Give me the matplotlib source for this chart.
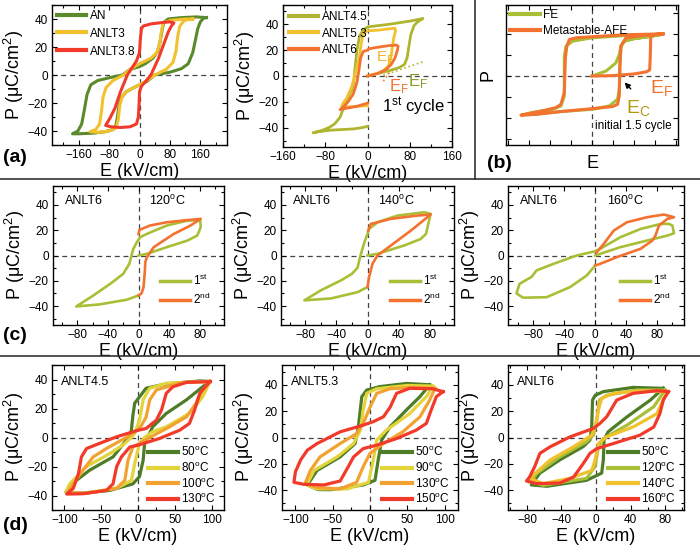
import matplotlib
matplotlib.use('Agg')
import matplotlib.pyplot as plt
from matplotlib.ticker import AutoMinorLocator, NullLocator
from matplotlib.lines import Line2D

plt.rcParams['font.family'] = ['Liberation Sans', 'DejaVu Sans']
plt.rcParams['mathtext.fontset'] = 'custom'
plt.rcParams['mathtext.rm'] = 'Liberation Sans'
plt.rcParams['mathtext.it'] = 'Liberation Sans:italic'
plt.rcParams['mathtext.bf'] = 'Liberation Sans:bold'

# ---------------- data (E in kV/cm, P in uC/cm2) ----------------
# (a) left: composition series
an_E = [176, 150, 110, 75, 64, 60, 55, 48, 35, 15, 0, -25, -45, -80, -110, -128, -138, -145, -152, -162, -176,
        -160, -120, -90, -70, -62, -58, -54, -47, -35, -15, 0, 20, 40, 80, 110, 128, 140, 147, 153, 160, 168, 176]
an_P = [41, 41.5, 41, 40, 37.5, 33, 25, 17, 12, 8, 6, 4, 0, -2, -4, -7, -14, -25, -35, -40, -42,
        -42, -41.5, -40.5, -39, -36, -30, -22, -16, -12, -9, -7, -4.5, 0, 2, 4.5, 8, 16, 25, 33, 38, 40.5, 41]
lt3_E = [140, 120, 80, 62, 57, 53, 45, 30, 0, -25, -42, -70, -88, -96, -100, -105, -115, -130,
         -110, -80, -62, -56, -52, -45, -30, 0, 25, 40, 70, 88, 96, 100, 106, 118, 140]
lt3_P = [40, 40, 39, 37, 30, 22, 16, 12, 8, 4, 0, -4, -9, -16, -26, -35, -39, -40.5,
         -41, -40, -38, -32, -22, -15, -11, -7, -3, 0, 4, 9, 17, 27, 35, 39, 40]
lt38_E = [89, 80, 60, 30, 10, 5, 2, 0, -8, -20, -32, -50, -65, -78, -89,
          -75, -50, -25, -8, -3, -1, 0, 5, 15, 30, 50, 65, 76, 84, 89]
lt38_P = [37, 38, 37.5, 36.5, 35, 33, 25, 16, 10, 5, 0, -12, -24, -31, -36,
          -37, -37.5, -37, -35, -30, -20, -12, -8, -5, 0, 12, 23, 31, 35, 37]

# (a) right: first cycle
lt45_E = [0, 20, 40, 60, 70, 75, 78, 82, 88, 95, 105, 80, 40, 10, 0, -8, -15, -20, -24, -26, -30, -40, -52, -62,
          -71, -85, -103, -90, -71, -50, -27, -10, 0]
lt45_P = [0, 2, 4, 6.5, 9, 14, 22, 32, 39, 42, 44.5, 42.5, 40, 38.5, 38, 35.5, 31, 20, 5, -5, -11, -19, -32, -37,
          -39.5, -42, -44, -43, -42, -41.5, -41, -40, -39]
lt53_E = [0, 15, 30, 40, 44, 47, 50, 53, 52, 40, 20, 0, -8, -12, -15, -20, -25, -30, -40, -46, -49, -40, -20, 0]
lt53_P = [0, 1.5, 4, 8, 14, 22, 30, 35, 37, 36.5, 35.5, 35, 33, 25, 15, 7, -1, -8.5, -17.5, -21, -23.5, -24, -23.5, -23]
lt6_E = [0, 20, 35, 45, 52, 56, 58, 55, 40, 15, 2, 0, -8, -13, -16, -20, -27, -35, -43, -52, -40, -20, 0]
lt6_P = [0, 2, 5, 9, 14, 19, 23, 24, 23.5, 22, 21, 20, 19, 14, 5, -5, -14, -19, -23, -26, -25, -23.5, -21]
ef45_E = [30, 105]
ef45_P = [0.5, 11]
ef6_E = [30, 42]
ef6_P = [-4, 3]

# (b) schematic, arbitrary units
fe_E = [0, 0.67, 1.14, 1.3, 1.38, 1.54, 1.94, 2.8, 3.37, 2.6, 1.62, 0, -0.92, -1.24, -1.32, -1.32, -1.48, -1.87,
        -2.8, -3.38, -2.67, -1.5, 0.03, 0.83, 1.22, 1.3, 1.33, 1.38, 1.54, 1.94, 2.8, 3.37]
fe_P = [0, 0.24, 0.63, 1.03, 1.43, 1.67, 1.78, 1.9, 2.0, 1.98, 1.94, 1.83, 1.67, 1.43, 0.95, -0.95, -1.43, -1.59,
        -1.73, -1.87, -1.83, -1.7, -1.59, -1.43, -1.11, -0.63, 0.5, 1.43, 1.67, 1.78, 1.9, 2.0]
afe_E = [0, 1.0, 2.0, 2.6, 2.75, 2.78, 2.8, 3.0, 3.4, 2.6, 1.62, 0.3, -0.76, -1.08, -1.2, -1.27, -1.32, -1.48,
         -1.71, -2.5, -3.38, -2.67, -1.5, -0.29, 0.98, 1.22, 1.3, 1.33, 1.38, 1.62, 2.5, 3.4]
afe_P = [0, 0.02, 0.1, 0.2, 0.3, 1.0, 1.9, 1.98, 2.02, 2.0, 1.98, 1.9, 1.83, 1.75, 1.43, 0.87, -0.79, -1.35,
         -1.51, -1.7, -1.87, -1.83, -1.7, -1.59, -1.46, -1.35, -0.95, 0.5, 1.43, 1.83, 1.95, 2.02]

# (c) ANLT6, 1st and 2nd cycles
c120_1_E = [0, 11, 37, 64, 77, 81.5, 81, 80.6, 64, 37, 11, 2.2, -2.2, -7, -10, -12, -20, -37, -59, -81.5, -51, -15.4, 0]
c120_1_P = [0, 1.3, 6.6, 11.8, 15.8, 22.4, 26.3, 28.2, 27.6, 23.7, 17.1, 14.5, 10.5, 5, -2, -6.6, -14.5, -22.4, -31.6,
            -40.3, -38.7, -35, -31.6]
c120_2_E = [0, 4, 6.6, 8, 9, 11, 20, 46, 68, 81.5, 64, 37, 15, 1.3, 0]
c120_2_P = [-31.6, -30, -25, -15, -5, -1.3, 6.6, 17, 23.7, 29, 28, 26.3, 23.7, 20.3, 17]
c140_1_E = [0, 12.8, 47, 68, 75, 79, 81, 72.6, 38.5, 12.8, 2, 0, -4, -9, -12.8, -20, -34, -60, -81, -47, -12.8, 0]
c140_1_P = [0, 1.3, 7.9, 13, 17, 27.6, 33, 34.2, 31.6, 26.3, 21, 17, 10.5, 0, -9.7, -14.5, -19.7, -27.6, -35.5, -34,
            -29, -25]
c140_2_E = [0, 2, 6.4, 12.8, 30, 55.6, 81, 64, 30, 4.3, 0.9]
c140_2_P = [-25, -17, -6.6, 0, 7.9, 19.7, 32.4, 31.6, 29, 25, 19.7]
c160_1_E = [0, 32.6, 67, 93.5, 102, 100, 95.6, 85, 58.7, 32.6, 6.5, 0, -24, -54, -76, -82.6, -98, -102, -93.5, -63,
            -32.6, -11, 0]
c160_1_P = [0, 6.6, 11.8, 15.8, 17.6, 23.7, 25, 25, 21, 14.5, 5.3, 3.4, 0, -6.6, -11.8, -17, -22.4, -30, -33.4, -33,
            -25, -15.8, -7.9]
c160_2_E = [0, 6.5, 28, 58.7, 74, 78, 82.6, 93.5, 102, 89, 67, 41, 24, 11, 2]
c160_2_P = [-7.9, -6.6, -1.3, 5.3, 11.8, 15.8, 23.7, 29, 30.3, 32.4, 30.3, 26.3, 19.7, 9.2, 2.6]

# (d) temperature series
d45_50_E = [98, 84, 38.5, 11, 2, -4.5, -7, -9, -13, -34, -66, -90, -98, -75, -38.5, -7, 2, 7, 9, 13, 20, 38.5, 66, 88, 98]
d45_50_P = [38.6, 39, 37, 34, 28, 23.6, 15, 5, 0, -13.4, -22.6, -32, -37.6, -38.3, -36.5, -32, -27, -15.7, -4, 0, 7.4,
            16.6, 26, 35, 38.6]
d45_80_E = [98, 38.5, 16, 7, 2, -4.5, -9, -20, -38, -70, -93, -98, -75, -29, -9, -4.5, 2, 9, 20, 38.5, 70, 88, 98]
d45_80_P = [38.6, 37.4, 34, 26, 12, 2.8, 0, -5, -11, -20, -32, -37.5, -38.5, -35, -29.6, -18, -4, 0, 4, 7.4, 16.6, 28,
            38.6]
d45_100_E = [98, 60, 25, 16, 11, 2, -16, -43, -61, -75, -88, -96, -70, -29, -18, -13.6, -7, 16, 43, 66, 79, 88, 98]
d45_100_P = [38.6, 38, 32.8, 26, 14, 6, 0, -7.6, -13.4, -22.6, -32, -38, -38.5, -35, -29.6, -15.7, -6.5, 0, 7.4, 14.3,
             23.6, 32.8, 38.6]
d45_130_E = [98, 66, 47.5, 38.5, 32, 25, 11, 0, -29, -52, -70, -77, -81, -88, -97, -75, -43, -34, -29, -22.6, -11, 0,
             29, 56.6, 70, 77, 84, 98]
d45_130_P = [38.6, 38, 35, 30.5, 19, 12, 6.2, 5, 0.5, -4, -7.6, -13.4, -25, -35, -39, -38.8, -36.5, -32, -20, -13.4,
             -6.5, -5.3, -0.7, 5, 9.7, 19, 30.5, 38.6]

d53_50_E = [80, 49, 13, -4.4, -11, -15.6, -20, -40, -71, -84, -70, -53, -9, 6.7, 11, 15.6, 26.7, 49, 67, 80]
d53_50_P = [40, 41, 38.6, 36, 31, 8, -4.6, -14.7, -25, -36, -39.5, -39.6, -36, -32.5, -17, -2, 8, 21, 31, 40]
d53_90_E = [84, 50, 9, -4.4, -9, -13, -22, -44, -75, -85, -71, -31, -2, 4.4, 9, 22, 53, 75.6, 84]
d53_90_P = [39, 39.5, 37, 33.5, 21, 5.6, -4.6, -14.7, -25, -36, -39, -39, -34, -17, -2, 5.6, 18, 31, 39]
d53_130_E = [87, 60, 27, 9, 0, -9, -18, -40, -67, -80, -87, -70, -40, -18, -9, 0, 18, 44, 67, 80, 87]
d53_130_P = [37.3, 38, 37, 33.5, 23, 10.7, 3, -4.6, -14.7, -25, -35, -38, -39, -34, -22, -12, -4.6, 4.3, 15.7, 28.4,
             37.3]
d53_150_E = [98, 84, 53, 35.6, 27, 18, 4.4, -9, -40, -71, -84, -93, -100, -102, -89, -62, -40, -29, -22, -9, 9, 35.6,
             62, 75.6, 82, 89, 98]
d53_150_P = [34.8, 37, 37.3, 33.5, 23, 15.7, 12, 9.4, 4.3, -4.6, -9.6, -17, -26, -34, -35.5, -36, -33, -22, -14.7,
             -8.4, -5.8, -0.8, 5.6, 10.7, 20.8, 31, 34.8]

d6_50_E = [78, 43, 8.5, -1, -4, -5, -7, -15, -42, -65, -75, -57, -11, 6.6, 8.5, 9.3, 14, 36, 63, 78]
d6_50_P = [37.3, 38, 34.8, 32, 28.4, 8, -2, -7, -17, -27, -36, -37, -32.5, -27, -17, -2, 4.3, 15.7, 28.4, 37.3]
d6_120_E = [80, 47, 12.4, 4, 1, -3, -11, -42, -69, -75, -61, -11, -1, 2.7, 8.5, 36, 67, 80]
d6_120_P = [36, 36, 32, 28.4, 13, 1.8, -3.3, -14.7, -27.4, -33.8, -36.3, -31, -22, -7, -0.8, 9.4, 23.4, 36]
d6_140_E = [82, 51, 20, 6.6, 2.7, -1, -5, -26, -53, -77, -61, -30, -5, -1, 2.7, 12.4, 43, 70.5, 82]
d6_140_P = [34.8, 35.5, 33.5, 29.7, 20.8, 8, 1.8, -7, -17, -31, -35, -31, -25, -17, -4.6, 0.5, 8, 18, 34.8]
d6_160_E = [84, 70.5, 43, 24, 12.4, 4.6, -3, -30, -53, -65, -71, -77, -80.6, -69, -42, -26, -15, -7, 1, 20, 51, 67,
            74, 78, 84]
d6_160_P = [34.8, 35.5, 33.5, 28.4, 15.7, 10.7, 6.9, 0.5, -7, -12, -22, -30, -33, -35, -34.5, -30, -20, -12, -8.4,
            -4.6, 1.8, 8, 18, 28.4, 34.8]

# ---------------- colours ----------------
GREEN = '#5a8a2b'
DKGREEN = '#4d7d27'
GOLD = '#f2c12e'
RED = '#f23a2a'
OLIVE = '#b0b530'
ORANGE = '#f37230'
LIME = '#a8bf36'
YELLOW = '#e4d43c'
AMBER = '#f2a230'

W, H = 700, 547
fig = plt.figure(figsize=(W / 100, H / 100), dpi=100)


def box(l, t, r, b):
    return [l / W, 1 - b / H, (r - l) / W, (b - t) / H]


def setup(ax, xlim, ylim, xticks, yticks, labels=True):
    ax.set_xlim(xlim)
    ax.set_ylim(ylim)
    ax.set_xticks(xticks)
    ax.set_yticks(yticks)
    ax.xaxis.set_minor_locator(AutoMinorLocator(2))
    ax.yaxis.set_minor_locator(AutoMinorLocator(2))
    ax.tick_params(which='both', direction='in', top=True, right=True, width=0.8, labelsize=8.5, pad=3)
    ax.tick_params(which='major', length=3.5)
    ax.tick_params(which='minor', length=2)
    for s in ax.spines.values():
        s.set_linewidth(1.0)
    ax.axhline(0, color='#444444', ls=(0, (4, 3)), lw=0.9, zorder=0)
    ax.axvline(0, color='#444444', ls=(0, (4, 3)), lw=0.9, zorder=0)
    if labels:
        ax.set_xlabel('E (kV/cm)', fontsize=13, labelpad=1)
        ax.set_ylabel('P (μC/cm$^2$)', fontsize=13, labelpad=1)
    else:
        ax.set_xticklabels([])
        ax.set_yticklabels([])


def legend(ax, loc, lw, spacing=0.3, **kw):
    leg = ax.legend(loc=loc, frameon=False, fontsize=8.5, handlelength=2.5, handletextpad=0.3,
                    labelspacing=spacing, borderaxespad=0.3, **kw)
    for h in leg.get_lines():
        h.set_linewidth(lw)
    return leg


deg = '$^{\\mathrm{o}}$C'

# ---- (a) left
ax = fig.add_axes(box(52, 5, 227, 145))
setup(ax, (-230, 230), (-50, 50), [-160, -80, 0, 80, 160], [-40, -20, 0, 20, 40])
ax.plot(an_E, an_P, color=GREEN, lw=2.2, label='AN')
ax.plot(lt3_E, lt3_P, color=GOLD, lw=2.2, label='ANLT3')
ax.plot(lt38_E, lt38_P, color=RED, lw=2.2, label='ANLT3.8')
legend(ax, 'upper left', 3, spacing=0.5, borderpad=0.1)

# ---- (a) right
ax = fig.add_axes(box(283, 5, 452, 147))
setup(ax, (-160, 160), (-55, 55), [-160, -80, 0, 80, 160], [-40, -20, 0, 20, 40])
ax.plot(lt45_E, lt45_P, color=OLIVE, lw=2.0, label='ANLT4.5')
ax.plot(lt53_E, lt53_P, color=GOLD, lw=2.0, label='ANLT5.3')
ax.plot(lt6_E, lt6_P, color=ORANGE, lw=2.0, label='ANLT6')
ax.plot(ef45_E, ef45_P, color=OLIVE, lw=1.2, ls=':')
ax.plot(ef6_E, ef6_P, color=ORANGE, lw=1.2, ls=':')
ax.text(17, 14, 'E$_\\mathrm{F}$', color='#f2b52e', fontsize=11, va='center')
ax.text(40, -8, 'E$_\\mathrm{F}$', color=ORANGE, fontsize=12, va='center')
ax.text(77, -4, 'E$_\\mathrm{F}$', color='#8c9a22', fontsize=12, va='center')
ax.text(27, -24, '1$^{\\mathrm{st}}$ cycle', fontsize=12, va='center')
legend(ax, 'upper left', 3, spacing=0.4, borderpad=0.2)

# ---- (b)
ax = fig.add_axes(box(506, 5, 678, 145))
setup(ax, (-4.1, 4.1), (-3.3, 3.4), [-4, -3, -2, -1, 0, 1, 2, 3, 4], [-3, -2, -1, 0, 1, 2, 3], labels=False)
ax.xaxis.set_minor_locator(NullLocator())
ax.yaxis.set_minor_locator(NullLocator())
ax.plot(fe_E, fe_P, color=LIME, lw=2.2, label='FE')
ax.plot(afe_E, afe_P, color=ORANGE, lw=2.2, label='Metastable-AFE')
ax.annotate('', xy=(1.46, -0.21), xytext=(1.94, -0.71),
            arrowprops=dict(arrowstyle='-|>', color='black', lw=1.0, mutation_scale=8))
ax.text(1.6, -1.55, 'E$_\\mathrm{C}$', color='#b09a12', fontsize=14, va='center')
ax.text(2.75, -0.55, 'E$_\\mathrm{F}$', color=ORANGE, fontsize=14, va='center')
ax.text(0.15, -2.4, 'initial 1.5 cycle', fontsize=8.5, va='center')
ax.set_xlabel('E', fontsize=13, labelpad=4)
ax.set_ylabel('P', fontsize=13, labelpad=4)
legend(ax, 'upper left', 3, borderpad=0.05)

# ---- (c)
c_sets = [
    (box(53, 186, 224, 325), (-112, 112), c120_1_E, c120_1_P, c120_2_E, c120_2_P, '120'),
    (box(281, 186, 454, 325), (-111, 111), c140_1_E, c140_1_P, c140_2_E, c140_2_P, '140'),
    (box(508, 186, 684, 325), (-113, 115), c160_1_E, c160_1_P, c160_2_E, c160_2_P, '160'),
]
for pos, xl, e1, p1, e2, p2, temp in c_sets:
    ax = fig.add_axes(pos)
    setup(ax, xl, (-55, 55), [-80, -40, 0, 40, 80], [-40, -20, 0, 20, 40])
    ax.plot(e1, p1, color=LIME, lw=1.9, label='1$^{\\mathrm{st}}$')
    ax.plot(e2, p2, color=ORANGE, lw=1.9, label='2$^{\\mathrm{nd}}$')
    ax.text(0.07, 0.89, 'ANLT6', transform=ax.transAxes, fontsize=9, va='center')
    ax.text(0.56, 0.89, temp + deg, transform=ax.transAxes, fontsize=9, va='center')
    legend(ax, 'lower right', 2.5, bbox_to_anchor=(0.97, 0.07))

# ---- (d)
d_sets = [
    (box(52, 365, 224, 510), (-117, 117), (-50, 50), [-100, -50, 0, 50, 100], 'ANLT4.5',
     [(d45_50_E, d45_50_P, DKGREEN, '50'), (d45_80_E, d45_80_P, YELLOW, '80'),
      (d45_100_E, d45_100_P, AMBER, '100'), (d45_130_E, d45_130_P, RED, '130')]),
    (box(282, 365, 458, 510), (-118, 118), (-55, 55), [-100, -50, 0, 50, 100], 'ANLT5.3',
     [(d53_50_E, d53_50_P, DKGREEN, '50'), (d53_90_E, d53_90_P, YELLOW, '90'),
      (d53_130_E, d53_130_P, AMBER, '130'), (d53_150_E, d53_150_P, RED, '150')]),
    (box(508, 365, 684, 510), (-102, 102), (-55, 55), [-80, -40, 0, 40, 80], 'ANLT6',
     [(d6_50_E, d6_50_P, DKGREEN, '50'), (d6_120_E, d6_120_P, LIME, '120'),
      (d6_140_E, d6_140_P, GOLD, '140'), (d6_160_E, d6_160_P, RED, '160')]),
]
for pos, xl, yl, xt, name, curves in d_sets:
    ax = fig.add_axes(pos)
    setup(ax, xl, yl, xt, [-40, -20, 0, 20, 40])
    for e, p, c, t in curves:
        ax.plot(e, p, color=c, lw=2.3, label=t + deg)
    ax.text(0.05, 0.88, name, transform=ax.transAxes, fontsize=9, va='center')
    legend(ax, 'lower right', 3, spacing=0.15, bbox_to_anchor=(1.0, -0.03))

# ---- separators and panel letters
fig.add_artist(Line2D([0, 1], [1 - 179 / H] * 2, color='#333333', lw=1.2))
fig.add_artist(Line2D([0, 1], [1 - 356 / H] * 2, color='#333333', lw=1.2))
fig.add_artist(Line2D([475 / W] * 2, [1, 1 - 179 / H], color='#333333', lw=1.2))
for txt, x, y in [('(a)', 3, 158), ('(b)', 487, 164), ('(c)', 3, 336), ('(d)', 3, 526)]:
    fig.text(x / W, 1 - y / H, txt, fontsize=14, fontweight='bold', va='center', ha='left')

fig.savefig('out.png', dpi=100)
